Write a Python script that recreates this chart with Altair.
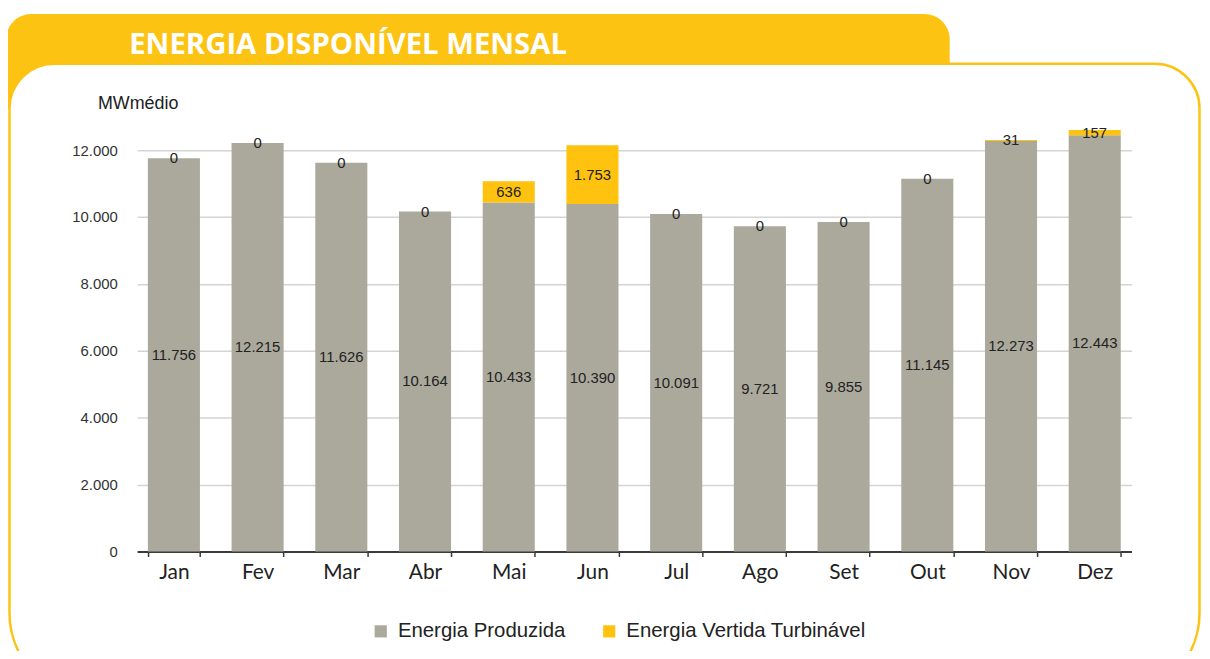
import altair as alt
import pandas as pd

months = ["Jan", "Fev", "Mar", "Abr", "Mai", "Jun", "Jul", "Ago", "Set", "Out", "Nov", "Dez"]
produzida = [11756, 12215, 11626, 10164, 10433, 10390, 10091, 9721, 9855, 11145, 12273, 12443]
vertida = [0, 0, 0, 0, 636, 1753, 0, 0, 0, 0, 31, 157]
series = ["Energia Produzida", "Energia Vertida Turbinável"]
colors = ["#ABA99C", "#FFC20E"]
y_ticks = [0, 2000, 4000, 6000, 8000, 10000, 12000]
title_text = "ENERGIA DISPONÍVEL MENSAL"
unit_text = "MWmédio"

rows = []
for m, p, v in zip(months, produzida, vertida):
    rows.append({"mes": m, "serie": series[0], "valor": p, "ordem": 0})
    rows.append({"mes": m, "serie": series[1], "valor": v, "ordem": 1})
df = pd.DataFrame(rows)

# plot origin on the page
OX, OY = 138, 122
W, H = 1001, 431
CW, CH = 1202, 643
YELLOW = "#FDC312"

def px(v):
    return v - OX

def py(v):
    return v - OY

one = pd.DataFrame({"k": [0]})

tab = alt.Chart(one).mark_rect(
    color=YELLOW, cornerRadiusTopLeft=28, cornerRadiusTopRight=28
).encode(
    x=alt.value(px(6)), x2=alt.value(px(956)),
    y=alt.value(py(12)), y2=alt.value(py(63))
)

corner = alt.Chart(one).mark_arc(
    color=YELLOW, theta=4.7124, theta2=6.2832, innerRadius=45, outerRadius=70
).encode(
    x=alt.value(px(9 + 45)), y=alt.value(py(62 + 45))
)

panel = alt.Chart(one).mark_rect(
    fill="transparent", stroke=YELLOW, strokeWidth=2.5,
    cornerRadiusTopLeft=45, cornerRadiusTopRight=45,
    cornerRadiusBottomLeft=85, cornerRadiusBottomRight=85
).encode(
    x=alt.value(px(9.5)), x2=alt.value(px(1207.5)),
    y=alt.value(py(62)), y2=alt.value(py(700))
)

title = alt.Chart(pd.DataFrame({"t": [title_text]})).mark_text(
    font="Open Sans", fontSize=29.5, fontWeight="bold", color="white",
    align="left", baseline="alphabetic"
).encode(
    x=alt.value(px(130)), y=alt.value(py(52)), text="t:N"
)

x_enc = alt.X(
    "mes:N", sort=months,
    scale=alt.Scale(paddingInner=0.378, paddingOuter=0.128),
    axis=alt.Axis(
        title=None, labelAngle=0, labelFont="Lato", labelFontSize=21,
        labelColor="#222222", domainColor="#3a3a3a", domainWidth=2,
        tickColor="#3a3a3a", tickSize=5, tickWidth=1.5, tickBand="extent",
        labelPadding=5, grid=False
    )
)

y_enc = alt.Y(
    "valor:Q", stack="zero",
    scale=alt.Scale(domain=[0, 12800], nice=False, zero=True),
    axis=alt.Axis(
        title=unit_text, titleAngle=0, titleAlign="left", titleBaseline="middle",
        titleX=98 - OX, titleY=102 - OY, titleFont="Liberation Sans", titleFontSize=18,
        titleFontWeight="normal", titleColor="#222222",
        values=y_ticks,
        labelExpr="replace(format(datum.value, ','), ',', '.')",
        labelFont="Liberation Sans", labelFontSize=15, labelColor="#333333",
        labelPadding=OX - 118, ticks=False, domain=False,
        gridColor="#d4d4d4", gridWidth=1.5
    )
)

bars = alt.Chart(df).mark_bar().encode(
    x=x_enc,
    y=y_enc,
    color=alt.Color(
        "serie:N",
        scale=alt.Scale(domain=series, range=colors),
        legend=alt.Legend(
            title=None, orient="none", direction="horizontal",
            legendX=373 - OX, legendY=634 - OY - 11, symbolType="square", symbolSize=150,
            symbolStrokeWidth=0, labelFont="Liberation Sans", labelFontSize=20.5,
            labelColor="#222222", columnPadding=33, labelOffset=7, labelLimit=400
        )
    ),
    order=alt.Order("ordem:Q", sort="ascending")
)

labels = alt.Chart(df).transform_stack(
    stack="valor", as_=["v0", "v1"], groupby=["mes"],
    sort=[alt.SortField("ordem", order="ascending")]
).transform_calculate(
    mid="(datum.v0 + datum.v1) / 2",
    txt="replace(format(datum.valor, ','), ',', '.')"
).mark_text(
    font="Liberation Sans", fontSize=15, color="#222222", baseline="middle"
).encode(
    x=alt.X("mes:N", sort=months),
    y=alt.Y("mid:Q"),
    text="txt:N"
)

chart = alt.layer(tab, corner, panel, title, bars, labels).properties(
    width=W, height=H,
    autosize=alt.AutoSizeParams(type="none"),
    padding={"left": OX - 8, "top": OY - 8, "right": CW - (OX - 8) - W, "bottom": CH - (OY - 8) - H}
).configure_view(stroke=None)

chart.save("out.html", embed_options={"renderer": "svg", "actions": False})
